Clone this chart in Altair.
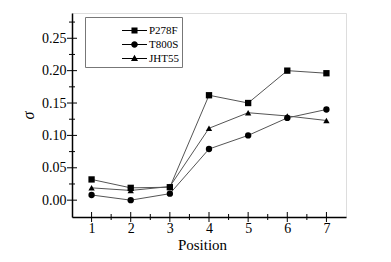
import altair as alt
import pandas as pd

positions = [1, 2, 3, 4, 5, 6, 7]
series_names = ["P278F", "T800S", "JHT55"]
p278f = [0.032, 0.019, 0.020, 0.162, 0.150, 0.200, 0.196]
t800s = [0.008, 0.000, 0.010, 0.079, 0.100, 0.127, 0.140]
jht55 = [0.019, 0.015, 0.021, 0.111, 0.135, 0.130, 0.123]

x_major_ticks = [1, 2, 3, 4, 5, 6, 7]
x_minor_ticks = [1.5, 2.5, 3.5, 4.5, 5.5, 6.5]
y_major_ticks = [0.0, 0.05, 0.1, 0.15, 0.2, 0.25]
y_minor_ticks = [0.025, 0.075, 0.125, 0.175, 0.225, 0.275]

rows = []
for name, vals in zip(series_names, [p278f, t800s, jht55]):
    for p, v in zip(positions, vals):
        rows.append({"Position": p, "sigma": v, "series": name})
df = pd.DataFrame(rows)

FONT = "Liberation Serif"
W, H = 274, 204
X_MIN, X_MAX = 0.5, 7.5
Y_MIN, Y_MAX = -0.026, 0.289

x_axis = alt.Axis(
    values=x_major_ticks,
    format="d",
    ticks=False,
    grid=False,
    domainColor="black",
    domainWidth=1.5,
    labelFont=FONT,
    labelFontSize=14,
    labelColor="black",
    labelPadding=4,
    title="Position",
    titleFont=FONT,
    titleFontSize=15,
    titleFontWeight="normal",
    titleColor="black",
    titlePadding=2,
    titleX=130,
)
y_axis = alt.Axis(
    values=y_major_ticks,
    format=".2f",
    ticks=False,
    grid=False,
    domainColor="black",
    domainWidth=1.5,
    labelFont=FONT,
    labelFontSize=14,
    labelColor="black",
    labelPadding=6,
    title="σ",
    titleFont=FONT,
    titleFontSize=16,
    titleFontStyle="italic",
    titleFontWeight="normal",
    titleColor="black",
    titlePadding=5,
)

x_scale = alt.Scale(domain=[X_MIN, X_MAX], nice=False, zero=False)
y_scale = alt.Scale(domain=[Y_MIN, Y_MAX], nice=False, zero=False)
x_enc = alt.X("Position:Q", scale=x_scale, axis=x_axis)
y_enc = alt.Y("sigma:Q", scale=y_scale, axis=y_axis)

base = alt.Chart(df)

lines = base.mark_line(color="#555555", strokeWidth=1).encode(
    x=x_enc, y=y_enc, detail="series:N", order="Position:Q"
)

points = base.mark_point(filled=True, color="black", size=40, opacity=1).encode(
    x=x_enc,
    y=y_enc,
    shape=alt.Shape(
        "series:N",
        scale=alt.Scale(domain=series_names, range=["square", "circle", "triangle-up"]),
        legend=None,
    ),
)

# tick marks along the bottom and left frame
def xticks(vals, length):
    return alt.Chart(pd.DataFrame({"Position": vals, "sigma": [Y_MIN] * len(vals)})).mark_tick(
        color="black", thickness=1, size=length * 2, orient="vertical", opacity=1
    ).encode(x=x_enc, y=y_enc)

def yticks(vals, length):
    return alt.Chart(pd.DataFrame({"sigma": vals, "Position": [X_MIN] * len(vals)})).mark_tick(
        color="black", thickness=1, size=length * 2, orient="horizontal", opacity=1
    ).encode(y=y_enc, x=x_enc)

# legend symbols: thin bar (line) + marker, all filled
legend_paths = [
    "M-2.27,-0.1H2.27V0.1H-2.27Z M-0.55,-0.55H0.55V0.55H-0.55Z",
    "M-2.27,-0.1H2.27V0.1H-2.27Z M-0.6,0A0.6,0.6 0 1,1 0.6,0A0.6,0.6 0 1,1 -0.6,0Z",
    "M-2.27,-0.1H2.27V0.1H-2.27Z M0,-0.68L0.64,0.45H-0.64Z",
]

legend_layer = base.transform_filter("false").mark_point(
    filled=True, color="black", size=121, opacity=1
).encode(
    x=x_enc,
    y=y_enc,
    shape=alt.Shape(
        "series:N",
        scale=alt.Scale(domain=series_names, range=legend_paths),
        legend=alt.Legend(
            title=" ",
            titleFontSize=1,
            titlePadding=4,
            orient="none",
            legendX=13,
            legendY=4,
            padding=3,
            symbolOffset=41,
            labelOffset=9,
            rowPadding=2,
            symbolSize=121,
            symbolFillColor="black",
            symbolStrokeWidth=0,
            symbolOpacity=1,
            labelFont=FONT,
            labelFontSize=11,
            labelColor="black",
            labelExpr="datum.label + '\u00a0\u00a0\u00a0\u00a0\u00a0\u00a0\u00a0'",
            fillColor="white",
            strokeColor="#777777",
        ),
    ),
)

chart = (
    alt.layer(
        lines,
        points,
        xticks(x_major_ticks, 5),
        xticks(x_minor_ticks, 3),
        yticks(y_major_ticks, 5),
        yticks(y_minor_ticks, 3),
        legend_layer,
    )
    .resolve_scale(shape="independent")
    .properties(
        width=W,
        height=H,
        autosize=alt.AutoSizeParams(type="none"),
        padding={"left": 64, "top": 5, "right": 30, "bottom": 37},
    )
    .configure_view(stroke="black", strokeWidth=1.5)
    .configure(background="white")
)

chart.save("out.html", embed_options={"renderer": "svg", "actions": False})
